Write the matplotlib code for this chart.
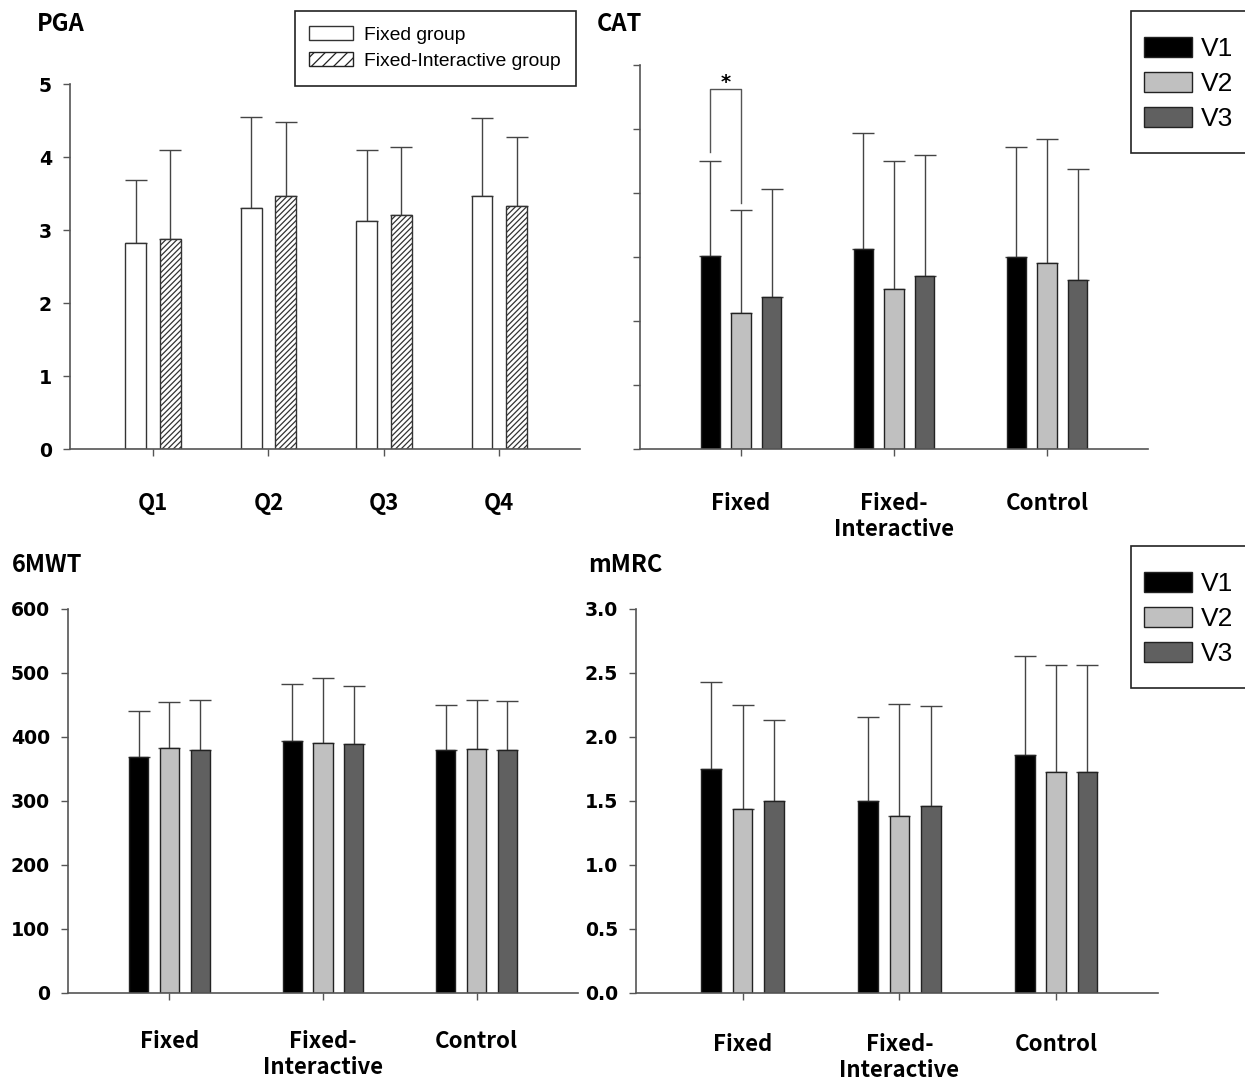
import numpy as np
import matplotlib
matplotlib.use("Agg")
import matplotlib.pyplot as plt
from matplotlib.patches import Patch, Rectangle

# data
quarters = ["Q1", "Q2", "Q3", "Q4"]
pga_fixed = [2.82, 3.30, 3.12, 3.47]
pga_fixed_err = [0.87, 1.25, 0.98, 1.06]
pga_inter = [2.88, 3.46, 3.21, 3.33]
pga_inter_err = [1.22, 1.02, 0.93, 0.95]

groups = ["Fixed", "Fixed-\nInteractive", "Control"]
visits = ["V1", "V2", "V3"]

cat_mean = [[15.1, 15.6, 15.0], [10.6, 12.5, 14.5], [11.9, 13.5, 13.2]]
cat_err = [[7.4, 9.1, 8.6], [8.1, 10.0, 9.7], [8.4, 9.5, 8.7]]

mwt_mean = [[369, 394, 379], [383, 390, 381], [380, 389, 380]]
mwt_err = [[71, 89, 71], [72, 102, 77], [78, 91, 76]]

mmrc_mean = [[1.75, 1.50, 1.86], [1.44, 1.38, 1.73], [1.50, 1.46, 1.73]]
mmrc_err = [[0.68, 0.66, 0.77], [0.81, 0.88, 0.83], [0.63, 0.78, 0.83]]

visit_colors = ["#000000", "#c0c0c0", "#606060"]

W, H = 1245, 1081
fig = plt.figure(figsize=(W / 100, H / 100), dpi=100)

tick_font = ["DejaVu Sans"]
lab_font = ["Noto Sans CJK KR", "DejaVu Sans"]
leg_font = ["Liberation Sans", "DejaVu Sans"]
axcol = "#555555"
plt.rcParams["hatch.linewidth"] = 0.9


def px_axes(l, t, r, b):
    return fig.add_axes([l / W, 1 - b / H, (r - l) / W, (b - t) / H])


def frame_box(l, t, r, b):
    # legend frame drawn separately (the original has a tall padding)
    fig.add_artist(Rectangle((l / W, 1 - b / H), (r - l) / W, (b - t) / H,
                             transform=fig.transFigure, facecolor="white",
                             edgecolor="#222222", linewidth=1.2, zorder=4))


def style(ax, pad):
    for s in ["top", "right"]:
        ax.spines[s].set_visible(False)
    for s in ["left", "bottom"]:
        ax.spines[s].set_color(axcol)
        ax.spines[s].set_linewidth(1.2)
    ax.tick_params(axis="y", length=5, width=1, color=axcol, pad=8)
    ax.tick_params(axis="x", length=5, width=1, color=axcol, pad=pad)
    for t in ax.get_yticklabels():
        t.set_fontfamily(tick_font)
        t.set_fontweight("bold")
        t.set_fontsize(13.6)
    for t in ax.get_xticklabels():
        t.set_fontfamily(lab_font)
        t.set_fontweight("bold")
        t.set_fontsize(16)
        t.set_linespacing(1.15)


def grouped(ax, means, errs, width=0.125, off=0.2):
    x = np.arange(len(groups))
    for i in range(len(visits)):
        xi = x + (i - 1) * off
        ax.errorbar(xi, means[i], yerr=[np.zeros(3), errs[i]], fmt="none",
                    ecolor="#444444", elinewidth=1, capsize=8, capthick=1, zorder=1)
        ax.bar(xi, means[i], width, color=visit_colors[i], edgecolor="#222222",
               linewidth=1, zorder=2)
    ax.set_xticks(x)
    ax.set_xticklabels(groups, va="top")
    ax.set_xlim(-0.66, 2.66)


# PGA
ax1 = px_axes(70, 84, 580, 449)
x = np.arange(len(quarters))
for vals, errs, off, hatch in [(pga_fixed, pga_fixed_err, -0.15, ""),
                                (pga_inter, pga_inter_err, 0.15, "//////")]:
    ax1.errorbar(x + off, vals, yerr=[np.zeros(4), errs], fmt="none",
                 ecolor="#444444", elinewidth=1, capsize=8, capthick=1, zorder=1)
    ax1.bar(x + off, vals, 0.18, color="white", edgecolor="#333333",
            hatch=hatch, linewidth=1, zorder=2)
ax1.set_xticks(x)
ax1.set_xticklabels(quarters)
ax1.set_xlim(-0.72, 3.70)
ax1.set_ylim(0, 5)
ax1.set_yticks(range(6))
style(ax1, 26)
frame_box(295, 11, 576, 86)
leg = fig.legend(handles=[Patch(facecolor="white", edgecolor="#333333", label="Fixed group"),
                          Patch(facecolor="white", edgecolor="#222222", hatch="///",
                                label="Fixed-Interactive group")],
                 loc="upper left", bbox_to_anchor=(309 / W, 1 - 26 / H), borderaxespad=0,
                 prop={"family": leg_font, "size": 13.9}, frameon=False,
                 handlelength=2.28, handleheight=0.73, borderpad=0,
                 labelspacing=0.45, handletextpad=0.57)
leg.set_zorder(5)

# CAT
ax2 = px_axes(640, 65, 1148, 449)
grouped(ax2, cat_mean, cat_err)
ax2.set_ylim(0, 30)
ax2.set_yticks(range(0, 31, 5))
ax2.set_yticklabels([])
style(ax2, 26)
# significance bracket between V1 and V2 of Fixed
x1, x2 = -0.2, 0.0
ax2.plot([x1, x1, x2, x2], [23.2, 28.1, 28.1, 19.2], color="#555555", lw=1, zorder=3)
ax2.text((x1 + x2) / 2, 27.9, "*", ha="center", va="bottom", fontsize=14,
         fontweight="bold", family=tick_font)

# 6MWT
ax3 = px_axes(68, 609, 578, 993)
grouped(ax3, mwt_mean, mwt_err)
ax3.set_ylim(0, 600)
ax3.set_yticks(range(0, 601, 100))
style(ax3, 22)

# mMRC
ax4 = px_axes(636, 609, 1158, 993)
grouped(ax4, mmrc_mean, mmrc_err)
ax4.set_xlim(-0.68, 2.65)
ax4.set_ylim(0, 3)
ax4.set_yticks(np.arange(0, 3.01, 0.5))
ax4.set_yticklabels(["%.1f" % v for v in np.arange(0, 3.01, 0.5)])
style(ax4, 24)

vhandles = [Patch(facecolor=c, edgecolor="#222222", label=v) for c, v in zip(visit_colors, visits)]
for top in [11, 546]:
    frame_box(1131, top, 1262, top + 142)
    leg = fig.legend(handles=vhandles, loc="upper left",
                     bbox_to_anchor=(1144 / W, 1 - (top + 26) / H), borderaxespad=0,
                     prop={"family": leg_font, "size": 19}, frameon=False,
                     handlelength=1.82, handleheight=0.76, borderpad=0,
                     labelspacing=0.42, handletextpad=0.35)
    leg.set_zorder(5)

for txt, px, py in [("PGA", 37, 24), ("CAT", 597, 24), ("6MWT", 12, 565), ("mMRC", 588, 565)]:
    fig.text(px / W, 1 - py / H, txt, ha="left", va="center", fontsize=17,
             fontweight="bold", family=lab_font)

fig.savefig("out.png", dpi=100)
